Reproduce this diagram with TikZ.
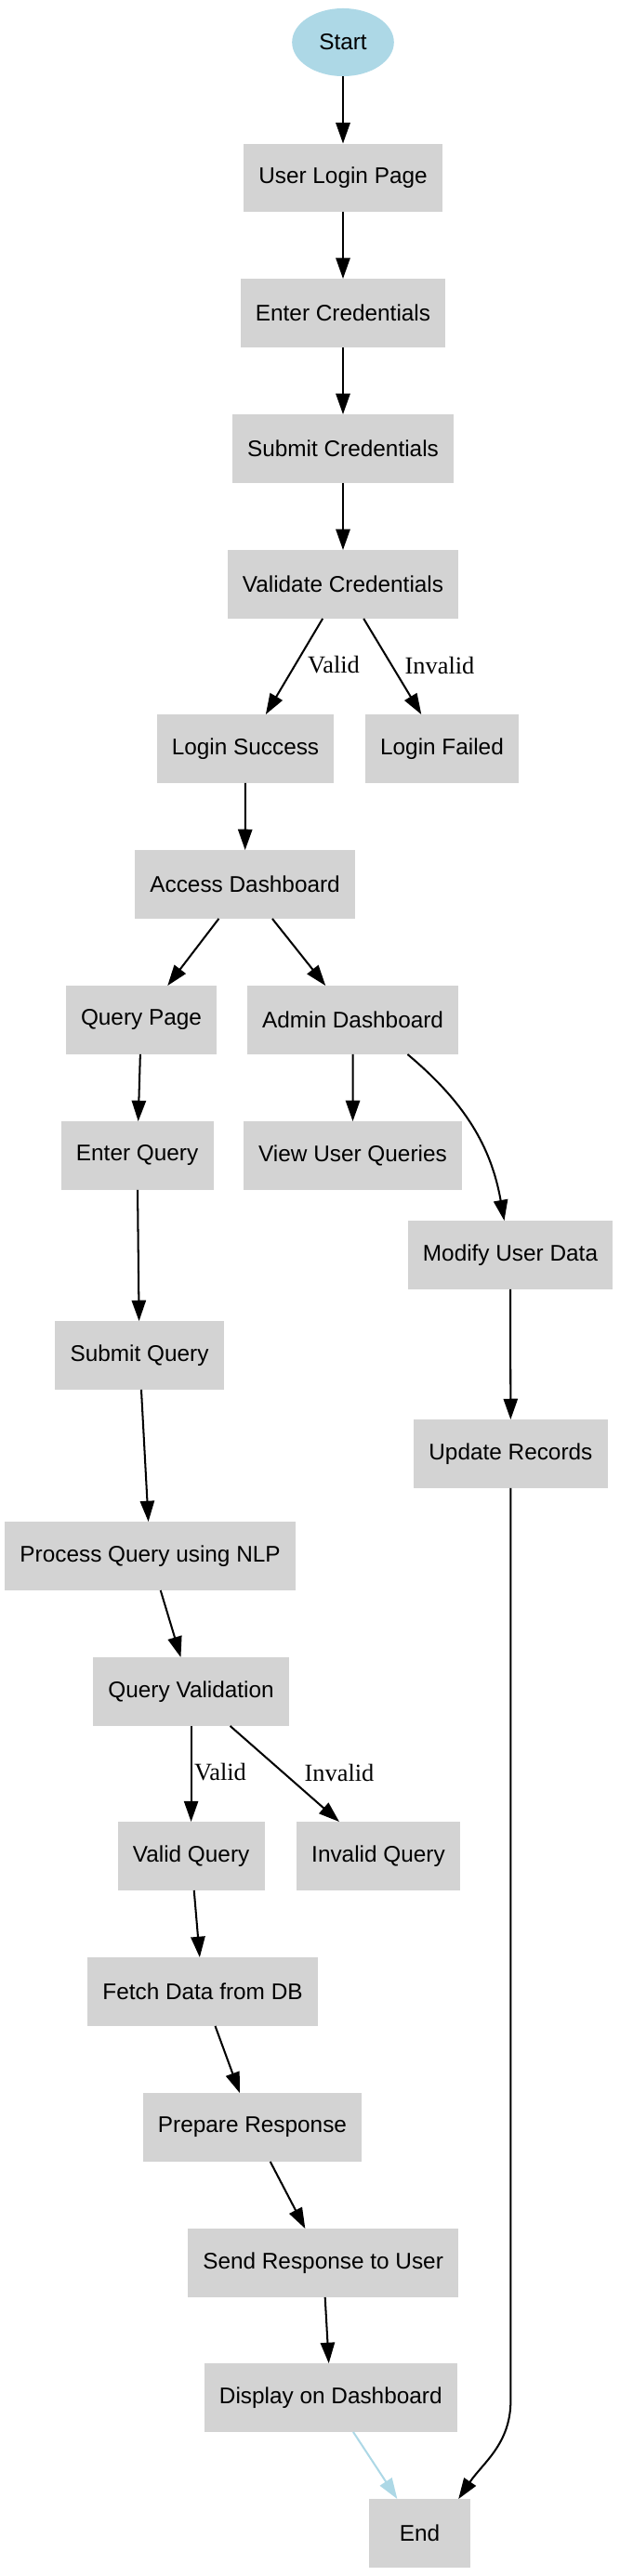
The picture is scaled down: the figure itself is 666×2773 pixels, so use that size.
\documentclass[tikz,border=0pt]{standalone}
\usepackage{fontspec}
\setmainfont{Liberation Sans}
\newfontfamily\lblfont{Liberation Serif}
\usepackage{tikz}
\usetikzlibrary{shapes,arrows.meta,positioning,calc}
\usepackage{xcolor}
\definecolor{boxgray}{HTML}{D3D3D3}
\definecolor{startblue}{HTML}{ADD8E6}

\begin{document}
\begin{tikzpicture}[
  x=0.4926pt, y=0.4926pt,
  pnode/.style={rectangle, fill=#1, minimum width=54pt, minimum height=36pt, inner xsep=8pt, align=center, font=\fontsize{12}{14}\selectfont},
  pnode/.default=boxgray,
  snode/.style={ellipse, fill=startblue, minimum width=54pt, minimum height=36pt, inner sep=0pt, font=\fontsize{12}{14}\selectfont},
  elabel/.style={font=\lblfont\fontsize{13}{15}\selectfont, inner sep=1pt},
  flow/.style={line width=1pt, -{Triangle[length=11pt, width=7.5pt]}}
]
  \useasboundingbox (0,0) rectangle (666,-2773);

  % login part
  \node[snode] (start) at (369,-45.5) {Start};
  \node[pnode] (login) at (369,-191.5) {User Login Page};
  \node[pnode] (enter) at (369,-337) {Enter Credentials};
  \node[pnode] (submit) at (369,-483) {Submit Credentials};
  \node[pnode] (validate) at (369,-629) {Validate Credentials};
  \node[pnode] (success) at (264,-806) {Login Success};
  \node[pnode] (failed) at (475.5,-806) {Login Failed};
  \node[pnode] (access) at (263.6,-952) {Access Dashboard};

  % query and admin part
  \node[pnode] (qpage) at (152,-1098) {Query Page};
  \node[pnode] (admin) at (379.6,-1098) {Admin Dashboard};
  \node[pnode] (qenter) at (147.6,-1244) {Enter Query};
  \node[pnode] (viewq) at (379.5,-1244) {View User Queries};
  \node[pnode] (modify) at (549,-1351) {Modify User Data};
  \node[pnode] (qsubmit) at (150,-1459) {Submit Query};
  \node[pnode] (update) at (549.4,-1565) {Update Records};
  \node[pnode] (nlp) at (161.6,-1675) {Process Query using NLP};
  \node[pnode] (qvalid) at (205.6,-1821) {Query Validation};
  \node[pnode] (validq) at (205.6,-1998) {Valid Query};
  \node[pnode] (invalidq) at (407,-1998) {Invalid Query};
  \node[pnode] (fetch) at (218,-2144) {Fetch Data from DB};
  \node[pnode] (prepare) at (271.5,-2290) {Prepare Response};
  \node[pnode] (send) at (347.6,-2436) {Send Response to User};
  \node[pnode] (display) at (355.8,-2581) {Display on Dashboard};
  \node[pnode] (end) at (451.6,-2727) {End};

  % edge labels
  \node[elabel] (lvalid1) at (359,-716) {Valid};
  \node[elabel] (linvalid1) at (473,-716) {Invalid};
  \node[elabel] (lvalid2) at (237,-1908) {Valid};
  \node[elabel] (linvalid2) at (365,-1908) {Invalid};

  \coordinate (ubend) at (549.4,-2584);

  \draw[flow] (start) -- (login);
  \draw[flow] (login) -- (enter);
  \draw[flow] (enter) -- (submit);
  \draw[flow] (submit) -- (validate);
  \draw[flow] (validate) -- (success);
  \draw[flow] (validate) -- (failed);
  \draw[flow] (success) -- (access);
  \draw[flow] (access) -- (qpage);
  \draw[flow] (access) -- (admin);
  \draw[flow] (qpage) -- (qenter);
  \draw[flow] (admin) -- (viewq);
  \draw[flow] ([xshift=29pt]admin.south) to[out=-40,in=100] (modify);
  \draw[flow] (qenter) -- (qsubmit);
  \draw[flow] (modify) -- (update);
  \draw[flow] (qsubmit) -- (nlp);
  \draw[flow] (nlp) -- (qvalid);
  \draw[flow] (qvalid) -- (validq);
  \draw[flow] (qvalid) -- (invalidq);
  \draw[flow] (validq) -- (fetch);
  \draw[flow] (fetch) -- (prepare);
  \draw[flow] (prepare) -- (send);
  \draw[flow] (send) -- (display);
  \draw[flow, startblue] (display) -- (end);
  \draw[flow] (update) -- (ubend) to[out=-90,in=56] ([xshift=-6.7pt]end.north east);
\end{tikzpicture}
\end{document}
